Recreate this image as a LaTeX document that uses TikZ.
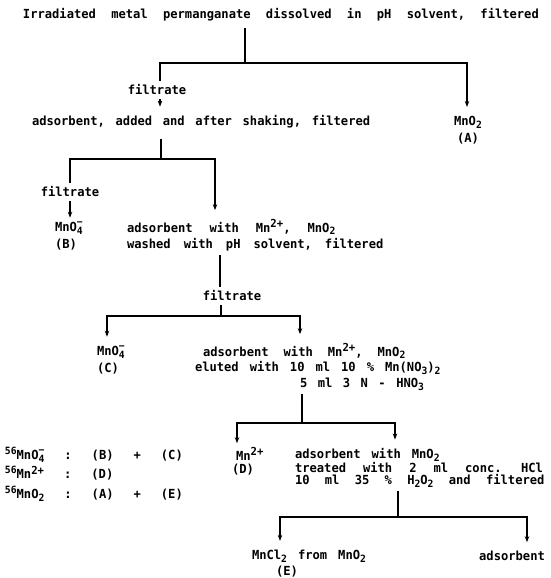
\documentclass[tikz,border=0pt]{standalone}
\usepackage{fontspec}
\setmainfont{DejaVu Sans Mono}[FakeStretch=0.97,WordSpace=1.6,BoldFont={DejaVu Sans Mono Bold}]
\usetikzlibrary{arrows.meta,calc}
\newcommand{\sbs}[1]{\raisebox{-0.4ex}{\fontsize{10}{10}\selectfont #1}}
\newcommand{\sps}[1]{\raisebox{0.75ex}{\fontsize{10}{10}\selectfont #1}}
\newcommand{\spc}{\raisebox{0.7ex}{\fontsize{11}{11}\selectfont 2+}}
\newcommand{\sbsp}[2]{\makebox[0pt][l]{\raisebox{0.9ex}{\fontsize{10}{10}\selectfont #2}}\sbs{#1}}
\newcommand{\gp}{\hspace{20pt}}
\newcommand{\ws}[1]{\spaceskip=#1pt\relax}
\begin{document}
\begin{tikzpicture}[x=1pt,y=-1pt,
  txt/.style={inner sep=0pt,outer xsep=0pt,outer ysep=4pt,font=\fontsize{12.5}{17}\selectfont\bfseries},
  lt/.style={txt,anchor=west},
  ln/.style={line width=1.1pt},
  arr/.style={ln,-{Stealth[length=6pt,width=4.5pt]}},
  arrs/.style={arr,shorten >=5pt}]
\useasboundingbox (0,0) rectangle (551,578);
\fill[white] (0,0) rectangle (551,578);
% texts
\node[lt] (t0) at (23,15) {\ws{15.3}Irradiated metal permanganate dissolved in pH solvent, filtered};
\node[txt] (f1) at (157,90) {filtrate};
\node[lt] (s1) at (32,122) {\ws{10.7}adsorbent, added and after shaking, filtered};
\node[txt] (A1) at (468,122) {MnO\sbs{2}};
\node[txt] (A2) at (468,139) {(A)};
\node[txt] (f2) at (70,192) {filtrate};
\node[lt,align=left] (B1) at (55,236) {MnO\sbsp{4}{−}\\(B)};
\node[lt] (s2) at (127,227) {\ws{17}adsorbent with Mn\spc, MnO\sbs{2}};
\node[lt] (s2b) at (127,245) {\ws{13}washed with pH solvent, filtered};
\node[txt] (f3) at (232,296) {filtrate};
\node[lt,align=left] (C1) at (97,360) {MnO\sbsp{4}{−}\\(C)};
\node[lt] (s3) at (203,351) {\ws{15}adsorbent with Mn\spc, MnO\sbs{2}};
\node[lt] (s3b) at (195,368) {\ws{11}eluted with 10 ml 10 \% Mn(NO\sbs{3})\sbs{2}};
\node[lt] (s3c) at (300,384) {\ws{10.5}5 ml 3 N - HNO\sbs{3}};
\node[lt,align=left,font=\fontsize{12.5}{13}\selectfont\bfseries] (D1) at (232,461) {\hspace{4pt}Mn\spc\\(D)};
\node[lt] (s4) at (295,455) {\ws{11}adsorbent with MnO\sbs{2}};
\node[lt] (s4b) at (295,468) {\ws{17}treated with 2 ml conc. HCl};
\node[lt] (s4c) at (295,481) {\ws{15.3}10 ml 35 \% H\sbs{2}O\sbs{2} and filtered};
\node[lt] (E1) at (252,556) {\ws{11}MnCl\sbs{2} from MnO\sbs{2}};
\node[txt] (E2) at (287,572) {(E)};
\node[txt] (ad) at (512,556) {adsorbent};
\node[lt,align=left,font=\fontsize{12.5}{19.5}\selectfont\bfseries] (L) at (5,474)
  {\sps{56}MnO\sbsp{4}{−}\gp:\gp(B)\gp+\gp(C)\\
   \sps{56}Mn\spc\gp:\gp(D)\\
   \sps{56}MnO\sbs{2}\gp:\gp(A)\gp+\gp(E)};
% junctions
\coordinate (j1) at (245,63);
\coordinate (j1l) at (160,63);
\coordinate (j1r) at (467,63);
\coordinate (j2) at (161,159);
\coordinate (j2l) at (70,159);
\coordinate (j2r) at (215,159);
\coordinate (j3a) at (220,255);
\coordinate (j3) at (221,316);
\coordinate (j3l) at (107,316);
\coordinate (j3r) at (300,316);
\coordinate (j4) at (302,423);
\coordinate (j4l) at (237,423);
\coordinate (j4r) at (395,423);
\coordinate (j5) at (398,517);
\coordinate (j5l) at (280,517);
\coordinate (j5r) at (527,517);
% connectors
\draw[ln,shorten <=3pt] (t0.south -| j1) -- (j1);
\draw[arrs] (f1.north -| j1l) -- (j1l) -- (j1r) -- (j1r |- A1.north);
\draw[arrs] (f1.south -| j1l) -- (j1l |- s1.north);
\draw[ln,shorten <=7pt] (s1.south -| j2) -- (j2);
\draw[arrs] (f2.north -| j2l) -- (j2l) -- (j2r) -- (j2r |- s2.north);
\draw[arr] (f2.south -| j2l) -- (j2l |- B1.north);
\draw[ln] (s2b.south -| j3a) -- (j3a |- f3.north);
\draw[ln] (f3.south -| j3) -- (j3);
\draw[arrs] (j3) -- (j3l) -- (j3l |- C1.north);
\draw[arrs] (j3) -- (j3r) -- (j3r |- s3.north);
\draw[ln] (s3c.south -| j4) -- (j4);
\draw[arr] (j4) -- (j4l) -- (j4l |- D1.north);
\draw[arrs] (j4) -- (j4r) -- (j4r |- s4.north);
\draw[ln] (s4c.south -| j5) -- (j5);
\draw[arrs] (j5) -- (j5l) -- (j5l |- E1.north);
\draw[arrs] (j5) -- (j5r) -- (j5r |- ad.north);
\end{tikzpicture}
\end{document}
